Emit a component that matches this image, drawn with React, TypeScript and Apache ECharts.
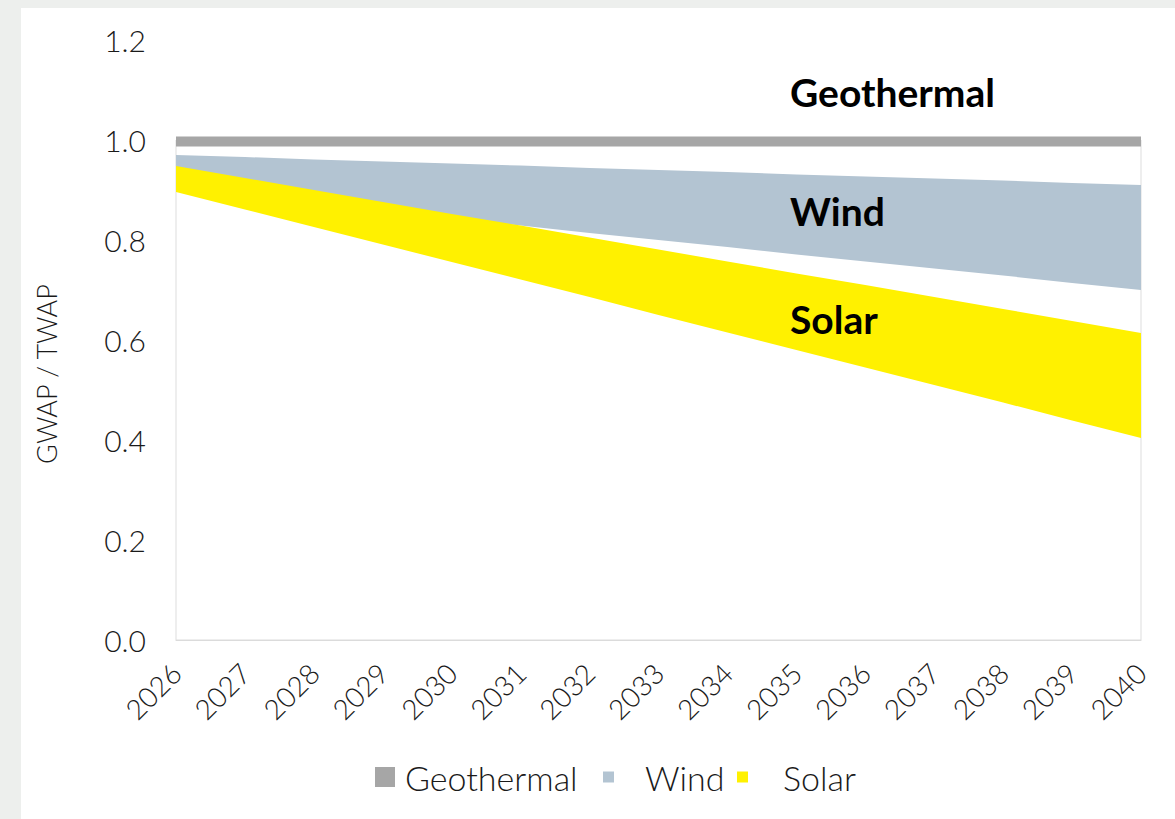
import React, { useEffect, useRef } from "react";
import * as echarts from "echarts";

const years = ["2026", "2027", "2028", "2029", "2030", "2031", "2032", "2033", "2034", "2035", "2036", "2037", "2038", "2039", "2040"];
const geothermal = [0.997, 0.997, 0.997, 0.997, 0.997, 0.997, 0.997, 0.997, 0.997, 0.997, 0.997, 0.997, 0.997, 0.997, 0.997];
const windUpper = [0.970, 0.966, 0.961, 0.957, 0.953, 0.949, 0.944, 0.940, 0.936, 0.931, 0.927, 0.923, 0.919, 0.914, 0.910];
const windLower = [0.900, 0.886, 0.871, 0.857, 0.843, 0.829, 0.814, 0.800, 0.786, 0.771, 0.757, 0.743, 0.729, 0.714, 0.700];
const solarUpper = [0.948, 0.924, 0.900, 0.876, 0.852, 0.829, 0.805, 0.781, 0.757, 0.733, 0.710, 0.686, 0.662, 0.638, 0.614];
const solarLower = [0.896, 0.861, 0.826, 0.791, 0.756, 0.721, 0.686, 0.650, 0.615, 0.580, 0.545, 0.510, 0.475, 0.439, 0.404];
const yTicks = { min: 0, max: 1.2, interval: 0.2 };

const FONT = "Lato";
const TEXT = "#1a1a1a";
const C_GEO = "#A6A6A6";
const C_WIND = "#B3C4D2";
const C_SOLAR = "#FFF100";

export default function App() {
  const ref = useRef<HTMLDivElement>(null);
  useEffect(() => {
    const chart = echarts.init(ref.current!, null, { renderer: "svg" });
    const windDiff = windUpper.map((v, i) => +(v - windLower[i]).toFixed(4));
    const solarDiff = solarUpper.map((v, i) => +(v - solarLower[i]).toFixed(4));
    const legendText = { fontFamily: FONT, fontWeight: 300, fontSize: 34, color: TEXT };
    const option: any = {
      animation: false,
      backgroundColor: "#ffffff",
      grid: { left: 155, top: 32, width: 965, height: 600, containLabel: false },
      xAxis: {
        type: "category",
        data: years,
        boundaryGap: false,
        axisLine: { show: true, lineStyle: { color: "#D9D9D9", width: 1 } },
        axisTick: { show: false },
        splitLine: { show: false },
        axisLabel: {
          rotate: 45,
          margin: 28,
          interval: 0,
          fontFamily: FONT,
          fontWeight: 300,
          fontSize: 28,
          color: TEXT,
        },
      },
      yAxis: {
        type: "value",
        min: yTicks.min,
        max: yTicks.max,
        interval: yTicks.interval,
        axisLine: { show: false },
        axisTick: { show: false },
        splitLine: { show: false },
        axisLabel: {
          margin: 30,
          fontFamily: FONT,
          fontWeight: 300,
          fontSize: 30,
          color: TEXT,
          formatter: (v: number) => v.toFixed(1),
        },
      },
      legend: [
        {
          data: ["Geothermal"],
          left: 354,
          top: 752,
          padding: 0,
          icon: "rect",
          itemWidth: 20,
          itemHeight: 20,
          selectedMode: false,
          textStyle: { ...legendText, padding: [0, 0, 0, 5] },
        },
        {
          data: ["Wind"],
          left: 582,
          top: 752,
          padding: 0,
          icon: "rect",
          itemWidth: 11,
          itemHeight: 11,
          selectedMode: false,
          textStyle: { ...legendText, padding: [0, 0, 0, 26] },
        },
        {
          data: ["Solar"],
          left: 716,
          top: 752,
          padding: 0,
          icon: "rect",
          itemWidth: 11,
          itemHeight: 11,
          selectedMode: false,
          textStyle: { ...legendText, padding: [0, 0, 0, 30] },
        },
      ],
      graphic: [
        {
          type: "text",
          x: 25,
          y: 366,
          z: 100,
          rotation: Math.PI / 2,
          style: { text: "GWAP / TWAP", fontFamily: FONT, fontWeight: 300, fontSize: 27, fill: TEXT, align: "center", verticalAlign: "middle" },
        },
        {
          type: "text",
          x: 769,
          y: 84,
          z: 100,
          style: { text: "Geothermal", fontFamily: FONT, fontWeight: "bold", fontSize: 39, fill: "#000", align: "left", verticalAlign: "middle" },
        },
        {
          type: "text",
          x: 769,
          y: 203,
          z: 100,
          style: { text: "Wind", fontFamily: FONT, fontWeight: "bold", fontSize: 39, fill: "#000", align: "left", verticalAlign: "middle" },
        },
        {
          type: "text",
          x: 769,
          y: 311,
          z: 100,
          style: { text: "Solar", fontFamily: FONT, fontWeight: "bold", fontSize: 39, fill: "#000", align: "left", verticalAlign: "middle" },
        },
      ],
      series: [
        {
          name: "Wind base",
          type: "line",
          stack: "wind",
          data: windLower,
          symbol: "none",
          silent: true,
          lineStyle: { opacity: 0 },
          z: 1,
          markArea: {
            silent: true,
            itemStyle: { color: "rgba(0,0,0,0)", borderColor: "#DDDDDD", borderWidth: 1 },
            data: [[{ xAxis: "2026", yAxis: 0 }, { xAxis: "2040", yAxis: 1 }]],
          },
        },
        {
          name: "Wind",
          type: "line",
          stack: "wind",
          data: windDiff,
          symbol: "none",
          silent: true,
          lineStyle: { opacity: 0 },
          itemStyle: { color: C_WIND },
          areaStyle: { color: C_WIND, opacity: 1 },
          z: 2,
        },
        {
          name: "Solar base",
          type: "line",
          stack: "solar",
          data: solarLower,
          symbol: "none",
          silent: true,
          lineStyle: { opacity: 0 },
          z: 3,
        },
        {
          name: "Solar",
          type: "line",
          stack: "solar",
          data: solarDiff,
          symbol: "none",
          silent: true,
          lineStyle: { opacity: 0 },
          itemStyle: { color: C_SOLAR },
          areaStyle: { color: C_SOLAR, opacity: 1 },
          z: 4,
        },
        {
          name: "Geothermal",
          type: "line",
          data: geothermal,
          symbol: "none",
          silent: true,
          lineStyle: { color: C_GEO, width: 10, cap: "butt" },
          itemStyle: { color: C_GEO },
          z: 5,
        },
      ],
    };
    chart.setOption(option);
    return () => chart.dispose();
  }, []);
  return (
    <div style={{ position: "fixed", left: 0, top: 0, width: 1175, height: 819, background: "#EDEFED" }}>
      <div ref={ref} style={{ position: "absolute", left: 21, top: 8, width: 1154, height: 811, background: "#ffffff" }} />
    </div>
  );
}
